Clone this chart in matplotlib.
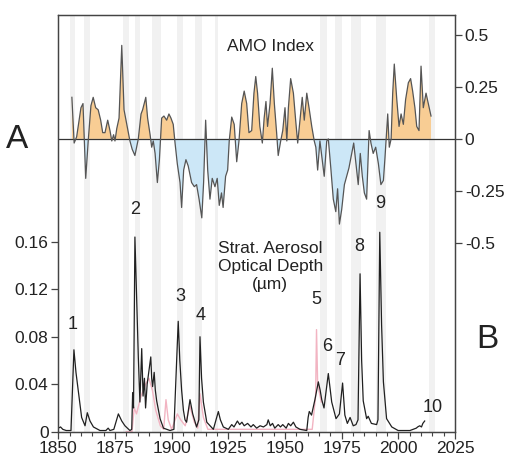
import numpy as np
import matplotlib.pyplot as plt
from matplotlib.ticker import MultipleLocator

plt.rcParams['font.family'] = ['Liberation Sans', 'DejaVu Sans']

# AMO index (annual)
amo_year = [1856.0, 1857.0, 1858.1, 1860.0, 1860.9, 1862.1, 1863.2, 1864.4, 1865.4, 1866.5,
            1867.6, 1868.7, 1869.6, 1870.6, 1871.8, 1872.8, 1873.6, 1874.4, 1875.0, 1875.8,
            1876.8, 1878.0, 1879.0, 1880.2, 1881.6, 1882.6, 1883.8, 1885.3, 1886.5, 1887.2,
            1888.6, 1889.4, 1890.5, 1891.2, 1891.9, 1892.7, 1893.7, 1894.6, 1895.6, 1896.6,
            1897.8, 1898.8, 1899.7, 1900.7, 1901.5, 1902.5, 1903.7, 1904.4, 1905.3, 1906.3,
            1907.3, 1908.8, 1910.0, 1911.0, 1912.1, 1913.3, 1914.1, 1915.0, 1915.9, 1916.9,
            1917.9, 1919.1, 1920.1, 1921.0, 1922.0, 1922.7, 1923.8, 1924.7, 1925.4, 1926.5,
            1927.6, 1928.7, 1929.7, 1930.9, 1932.0, 1933.1, 1934.1, 1935.3, 1936.3, 1937.1,
            1937.9, 1938.9, 1940.0, 1940.8, 1941.6, 1942.3, 1943.4, 1944.4, 1945.3, 1946.3,
            1947.0, 1948.1, 1949.0, 1950.0, 1950.8, 1951.5, 1952.5, 1953.7, 1954.7, 1955.6,
            1956.6, 1957.6, 1958.5, 1959.6, 1960.6, 1961.8, 1962.9, 1963.6, 1964.4, 1965.4,
            1966.5, 1967.3, 1968.4, 1969.1, 1970.2, 1971.3, 1972.4, 1973.2, 1974.0, 1975.0,
            1976.2, 1977.2, 1978.2, 1979.4, 1980.3, 1981.2, 1982.3, 1983.2, 1984.1, 1985.0,
            1986.0, 1987.1, 1987.9, 1988.9, 1990.0, 1991.2, 1992.3, 1993.4, 1994.1, 1995.3,
            1996.0, 1996.8, 1997.5, 1998.2, 1999.3, 2000.3, 2001.2, 2002.2, 2003.2, 2004.4,
            2005.4, 2006.3, 2007.3, 2008.1, 2009.1, 2010.0, 2011.0, 2012.2, 2013.2, 2014.4]
amo_val = [0.20, -0.02, 0.01, 0.15, 0.17, -0.19, -0.01, 0.16, 0.20, 0.15,
           0.14, 0.09, 0.03, 0.03, 0.09, 0.04, -0.01, 0.02, -0.01, 0.05,
           0.10, 0.45, 0.14, 0.07, -0.01, -0.05, -0.08, 0.00, 0.12, 0.14,
           0.20, 0.10, 0.02, -0.04, -0.01, -0.07, -0.21, -0.10, 0.10, 0.11,
           0.09, 0.12, 0.10, 0.07, -0.02, -0.12, -0.21, -0.33, -0.15, -0.10,
           -0.13, -0.21, -0.23, -0.22, -0.29, -0.38, -0.21, 0.09, -0.15, -0.29,
           -0.19, -0.23, -0.19, -0.32, -0.26, -0.33, -0.18, -0.15, -0.01, 0.105,
           0.07, -0.11, -0.01, 0.17, 0.23, 0.17, 0.03, 0.04, 0.22, 0.30,
           0.22, 0.06, -0.02, 0.10, 0.18, 0.06, 0.17, 0.34, 0.17, 0.03,
           -0.08, -0.01, 0.04, 0.15, -0.01, 0.15, 0.29, 0.22, 0.09, -0.02,
           0.09, 0.20, 0.09, 0.22, 0.15, 0.06, -0.01, -0.04, -0.15, -0.01,
           -0.11, -0.18, -0.01, 0.00, -0.14, -0.29, -0.35, -0.24, -0.41, -0.34,
           -0.22, -0.18, -0.14, -0.07, -0.02, -0.11, -0.22, -0.07, -0.18, -0.26,
           -0.29, 0.04, -0.02, -0.07, -0.04, -0.12, -0.22, -0.20, -0.09, 0.12,
           -0.04, 0.00, 0.22, 0.36, 0.19, 0.06, 0.12, 0.07, 0.19, 0.27,
           0.29, 0.23, 0.15, 0.06, 0.04, 0.35, 0.15, 0.22, 0.17, 0.11]

# stratospheric aerosol optical depth
aod_year = [1850.0, 1851.0, 1852.0, 1853.5, 1855.6, 1856.9, 1857.8, 1858.8, 1860.3, 1861.8,
            1862.8, 1864.0, 1865.5, 1868.4, 1871.0, 1872.0, 1872.8, 1874.5, 1876.5, 1878.0,
            1879.4, 1881.6, 1882.4, 1882.8, 1883.2, 1883.8, 1884.6, 1885.3, 1886.0, 1886.8,
            1887.4, 1888.0, 1888.5, 1889.2, 1889.7, 1890.3, 1890.8, 1891.2, 1891.6, 1892.3,
            1892.8, 1893.4, 1894.9, 1896.4, 1899.3, 1901.0, 1902.9, 1903.6, 1904.4, 1905.2,
            1905.9, 1906.6, 1908.1, 1909.3, 1911.0, 1912.0, 1912.5, 1913.2, 1914.0, 1915.5,
            1918.4, 1920.6, 1921.5, 1922.8, 1925.0, 1926.5, 1927.5, 1929.0, 1930.0, 1931.0,
            1932.0, 1933.5, 1935.0, 1936.0, 1937.5, 1939.0, 1940.5, 1942.0, 1942.6, 1943.5,
            1944.5, 1945.5, 1947.0, 1948.0, 1949.0, 1950.5, 1951.5, 1952.5, 1953.7, 1954.8,
            1956.6, 1959.6, 1960.2, 1960.7, 1961.7, 1963.2, 1964.7, 1965.5, 1966.2, 1967.2,
            1969.1, 1970.6, 1972.5, 1974.0, 1975.4, 1976.4, 1977.5, 1978.7, 1980.1, 1981.3,
            1982.2, 1983.1, 1983.8, 1984.5, 1986.0, 1986.7, 1988.1, 1990.4, 1991.0, 1991.8,
            1992.6, 1993.4, 1994.8, 1997.1, 1999.9, 2005.1, 2007.9, 2008.5, 2009.4, 2010.2,
            2010.8, 2011.6]
aod_val = [0.003, 0.004, 0.002, 0.001, 0.001, 0.069, 0.050, 0.035, 0.012, 0.005,
           0.016, 0.009, 0.004, 0.001, 0.001, 0.003, 0.001, 0.002, 0.015, 0.009,
           0.005, 0.001, 0.002, 0.033, 0.020, 0.164, 0.110, 0.063, 0.025, 0.070,
           0.030, 0.045, 0.020, 0.040, 0.047, 0.055, 0.063, 0.045, 0.038, 0.050,
           0.035, 0.026, 0.011, 0.003, 0.001, 0.002, 0.093, 0.060, 0.035, 0.018,
           0.010, 0.008, 0.027, 0.015, 0.004, 0.010, 0.080, 0.045, 0.025, 0.008,
           0.002, 0.017, 0.010, 0.004, 0.002, 0.006, 0.004, 0.009, 0.006, 0.008,
           0.005, 0.007, 0.004, 0.006, 0.003, 0.005, 0.004, 0.006, 0.010, 0.005,
           0.007, 0.003, 0.006, 0.004, 0.006, 0.003, 0.007, 0.005, 0.008, 0.004,
           0.002, 0.001, 0.012, 0.017, 0.014, 0.027, 0.042, 0.035, 0.027, 0.020,
           0.049, 0.025, 0.011, 0.015, 0.041, 0.014, 0.007, 0.012, 0.005, 0.006,
           0.010, 0.133, 0.060, 0.026, 0.011, 0.013, 0.007, 0.006, 0.010, 0.168,
           0.090, 0.042, 0.011, 0.004, 0.001, 0.001, 0.003, 0.004, 0.005, 0.004,
           0.007, 0.009]

# second AOD reconstruction (drawn underneath)
aod2_year = [1880.0, 1882.5, 1883.5, 1884.5, 1886.5, 1888.5, 1890.0, 1891.5, 1893.0, 1895.0,
             1896.5, 1897.5, 1898.5, 1900.0, 1902.5, 1904.0, 1906.0, 1908.0, 1910.0, 1911.5,
             1912.5, 1914.0, 1916.0, 1962.0, 1963.5, 1963.9, 1964.4, 1966.0]
aod2_val = [0.0, 0.0, 0.020, 0.015, 0.030, 0.040, 0.045, 0.035, 0.018, 0.005,
            0.002, 0.027, 0.010, 0.002, 0.015, 0.010, 0.005, 0.022, 0.008, 0.003,
            0.032, 0.012, 0.002, 0.002, 0.030, 0.086, 0.040, 0.025]

# eruption periods shaded in grey
band_start = [1855.0, 1861.5, 1878.5, 1884.0, 1891.5, 1902.5, 1910.5, 1919.0,
              1965.5, 1972.0, 1979.0, 1990.0, 2013.5]
band_end = [1857.5, 1864.0, 1881.0, 1886.0, 1895.5, 1905.0, 1913.5, 1920.5,
            1968.5, 1975.0, 1983.5, 1994.5, 2016.0]

# eruption number labels
lab_text = ['1', '2', '3', '4', '5', '6', '7', '8', '9', '10']
lab_year = [1856.3, 1883.8, 1903.7, 1912.9, 1963.7, 1968.7, 1974.3, 1982.8, 1992.0, 2015.3]
lab_aod = [0.090, 0.187, 0.114, 0.098, 0.111, 0.072, 0.060, 0.156, 0.192, 0.020]

fig = plt.figure(figsize=(5.09, 4.58), dpi=100)
ax1 = fig.add_axes([0.1145, 0.0574, 0.7795, 0.9098])
ax2 = ax1.twinx()

for s, e in zip(band_start, band_end):
    ax1.axvspan(s, e, color='#f1f1f1', lw=0, zorder=0)

ax1.plot(aod2_year, aod2_val, color='#f2b4c2', lw=1, zorder=2)
ax1.plot(aod_year, aod_val, color='#202020', lw=0.9, zorder=3)
ax1.set_xlim(1850, 2025)
ax1.set_ylim(0, 0.351)
ax1.set_yticks([0, 0.04, 0.08, 0.12, 0.16])
ax1.set_yticklabels(['0', '0.04', '0.08', '0.12', '0.16'])
ax1.xaxis.set_major_locator(MultipleLocator(25))
ax1.xaxis.set_minor_locator(MultipleLocator(5))

for t, x, y in zip(lab_text, lab_year, lab_aod):
    ax1.text(x, y, t, ha='center', va='center', fontsize=13, color='#222222')

ax1.text(1943.5, 0.161, 'Strat. Aerosol\nOptical Depth\n(µm)', ha='center', va='top',
         fontsize=12.5, linespacing=1.25, color='#222222')

# AMO panel
ay = np.array(amo_year)
av = np.array(amo_val)
ax2.fill_between(ay, av, 0, where=av >= 0, interpolate=True, color='#f8cd94', lw=0)
ax2.fill_between(ay, av, 0, where=av <= 0, interpolate=True, color='#cce7f7', lw=0)
ax2.axhline(0, color='#333333', lw=0.9)
ax2.plot(ay, av, color='#555555', lw=0.9)
ax2.set_ylim(-1.409, 0.596)
ax2.set_yticks([0.5, 0.25, 0, -0.25, -0.5])
ax2.set_yticklabels(['0.5', '0.25', '0', '-0.25', '-0.5'])
ax2.text(1943.5, 0.445, 'AMO Index', ha='center', va='center', fontsize=12.5, color='#222222')

for ax in (ax1, ax2):
    for sp in ax.spines.values():
        sp.set_color('#444444')
        sp.set_linewidth(0.9)
    ax.tick_params(which='major', length=5, width=0.9, color='#444444',
                   labelsize=12.5, labelcolor='#222222', pad=2)
    ax.tick_params(which='minor', length=3, width=0.8, color='#444444')

fig.text(0.033, 0.695, 'A', fontsize=24, ha='center', va='center', color='#222222')
fig.text(0.957, 0.258, 'B', fontsize=24, ha='center', va='center', color='#222222')

fig.savefig('out.png', dpi=100)
